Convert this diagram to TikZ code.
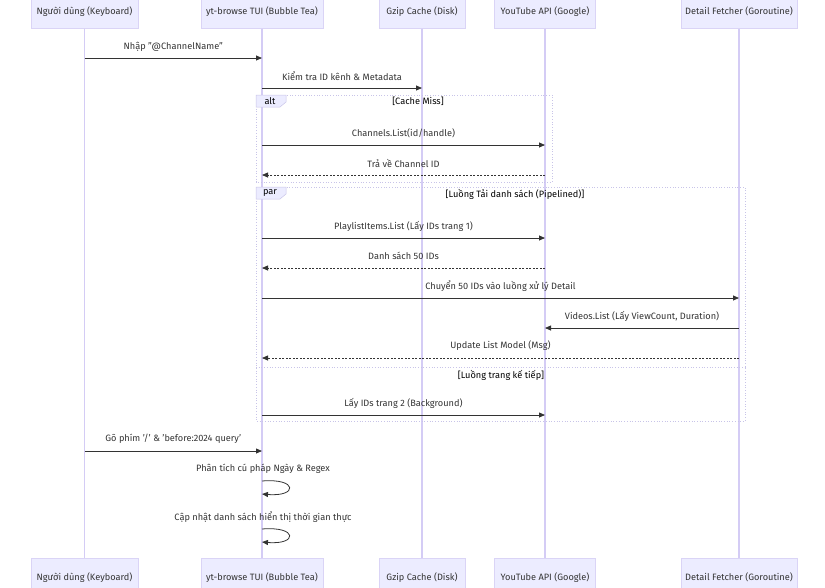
\documentclass[tikz,border=0pt]{standalone}
\usepackage{fontspec}
\setmainfont{Fira Sans}
\usetikzlibrary{arrows.meta}
\definecolor{actorfill}{RGB}{236,236,255}
\definecolor{actorline}{RGB}{218,212,246}
\definecolor{lifec}{RGB}{212,204,245}
\definecolor{msgc}{RGB}{51,51,51}
\definecolor{framec}{RGB}{200,196,232}

\begin{document}
\begin{tikzpicture}[x=1pt,y=-1pt,
    actor/.style={draw=actorline,fill=actorfill,minimum height=34pt,inner sep=0pt,text height=7pt,text depth=2pt,font=\fontsize{9.2}{11}\selectfont,text=msgc},
    life/.style={draw=lifec,line width=1.1pt},
    msg/.style={draw=msgc,line width=0.8pt,-{Triangle[length=6pt,width=5pt]}},
    reply/.style={msg,dash pattern=on 2pt off 1.5pt},
    lbl/.style={font=\fontsize{9.2}{11}\selectfont,text=msgc},
    looplbl/.style={font=\fontsize{9.2}{11}\selectfont,text=black},
    frame/.style={draw=framec,dotted,line width=0.7pt},
    tab/.style={draw=framec,fill=actorfill,line width=0.5pt}]
\useasboundingbox (0,0) rectangle (825,587);

    % 参与者
    \node[actor,minimum width=107pt] (user) at (84.5,11.5) {Người dùng (Keyboard)};
    \node[actor,minimum width=122pt] (tui) at (262,11.5) {yt-browse TUI (Bubble Tea)};
    \node[actor,minimum width=86pt] (gzip) at (422,11.5) {Gzip Cache (Disk)};
    \node[actor,minimum width=101pt] (ytapi) at (545,11.5) {YouTube API (Google)};
    \node[actor,minimum width=116pt] (fetcher) at (739,11.5) {Detail Fetcher (Goroutine)};

    \node[actor,minimum width=107pt,minimum height=40pt] (userB) at (84.5,578) {Người dùng (Keyboard)};
    \node[actor,minimum width=122pt,minimum height=40pt] (tuiB) at (262,578) {yt-browse TUI (Bubble Tea)};
    \node[actor,minimum width=86pt,minimum height=40pt] (gzipB) at (422,578) {Gzip Cache (Disk)};
    \node[actor,minimum width=101pt,minimum height=40pt] (ytapiB) at (545,578) {YouTube API (Google)};
    \node[actor,minimum width=116pt,minimum height=40pt] (fetcherB) at (739,578) {Detail Fetcher (Goroutine)};

    \foreach \p in {user,tui,gzip,ytapi,fetcher}
        \draw[life] (\p.south) -- (\p B.north);

    % 框
    \draw[frame] (256,95) rectangle (552,182);
    \draw[tab] (256,95) -- (286,95) -- (286,102) -- (280,107) -- (256,107) -- cycle;
    \node[looplbl] (altlbl) at (270,101) {alt};
    \node[looplbl] (altcond) at (418,101) {[Cache Miss]};

    \draw[frame] (256,187) rectangle (745,421);
    \draw[frame] (256,367) -- (745,367);
    \draw[tab] (256,187) -- (286,187) -- (286,194) -- (280,199) -- (256,199) -- cycle;
    \node[looplbl] (parlbl) at (270,193) {par};
    \node[looplbl] (parcond) at (515,194) {[Luồng Tải danh sách (Pipelined)]};
    \node[looplbl] (parcond2) at (501,375) {[Luồng trang kế tiếp]};

    % 消息
    \draw[msg] (user |- 0,58) -- (tui |- 0,58) node[lbl,midway,yshift=11.5pt] {Nhập "@ChannelName"};
    \draw[msg] (tui |- 0,88) -- (gzip |- 0,88) node[lbl,midway,yshift=11.5pt] {Kiểm tra ID kênh \& Metadata};
    \draw[msg] (tui |- 0,145) -- (ytapi |- 0,145) node[lbl,midway,yshift=12pt] {Channels.List(id/handle)};
    \draw[reply] (ytapi |- 0,175) -- (tui |- 0,175) node[lbl,midway,yshift=12pt] {Trả về Channel ID};
    \draw[msg] (tui |- 0,238) -- (ytapi |- 0,238) node[lbl,midway,yshift=12pt] {PlaylistItems.List (Lấy IDs trang 1)};
    \draw[reply] (ytapi |- 0,268) -- (tui |- 0,268) node[lbl,midway,yshift=12pt] {Danh sách 50 IDs};
    \draw[msg] (tui |- 0,298) -- (fetcher |- 0,298) node[lbl,midway,yshift=12pt] {Chuyển 50 IDs vào luồng xử lý Detail};
    \draw[msg] (fetcher |- 0,328) -- (ytapi |- 0,328) node[lbl,midway,yshift=12pt] {Videos.List (Lấy ViewCount, Duration)};
    \draw[reply] (fetcher |- 0,358) -- (tui |- 0,358) node[lbl,midway,yshift=12pt] {Update List Model (Msg)};
    \draw[msg] (tui |- 0,415) -- (ytapi |- 0,415) node[lbl,midway,yshift=12pt] {Lấy IDs trang 2 (Background)};
    \draw[msg] (user |- 0,451) -- (tui |- 0,451) node[lbl,midway,yshift=12pt] {Gõ phím '/' \& 'before:2024 query'};

    % 自身
    \node[lbl] (self1) at (263,469) {Phân tích cú pháp Ngày \& Regex};
    \draw[msg] (tui |- 0,481) .. controls (298,478) and (298,497) .. (tui |- 0,494);
    \node[lbl] (self2) at (263,517) {Cập nhật danh sách hiển thị thời gian thực};
    \draw[msg] (tui |- 0,529) .. controls (298,526) and (298,545) .. (tui |- 0,542);
\end{tikzpicture}
\end{document}
